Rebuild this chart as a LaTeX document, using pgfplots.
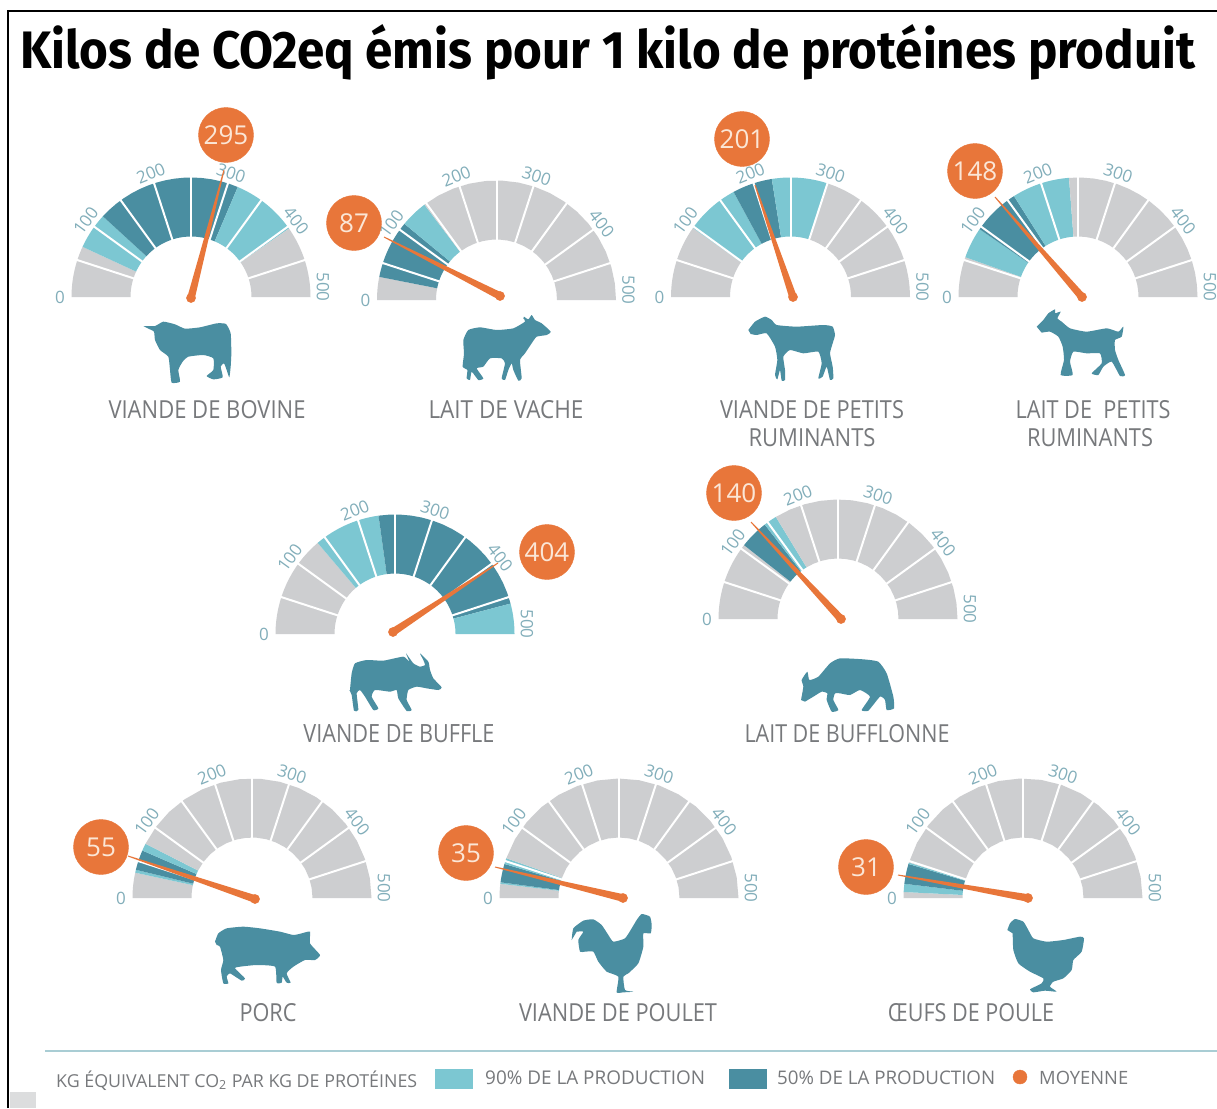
\documentclass[border=0pt]{standalone}
\usepackage{fontspec}
\usepackage{pgfplots}
\pgfplotsset{compat=1.18}
\setmainfont{Open Sans}
\newfontfamily\ttl{Fira Sans}
\definecolor{gr}{HTML}{CDCED0}
\definecolor{lt}{HTML}{7CC7D2}
\definecolor{dk}{HTML}{4A8EA1}
\definecolor{og}{HTML}{E8763A}
\definecolor{tk}{HTML}{82AEBA}
\definecolor{tx}{HTML}{77797C}
\definecolor{cream}{HTML}{FBE6D6}
\definecolor{ln}{HTML}{A9CDD4}
% one ring sector: centre x, centre y, from value, to value, colour
\newcommand\band[5]{%
  \gdef\pts{}%
  \pgfplotsforeachungrouped \t in {0,1,...,16}{%
    \pgfmathsetmacro\a{0.36*(#3+(#4-#3)*\t/16)}%
    \pgfmathsetmacro\xx{#1-119.5*cos(\a)}%
    \pgfmathsetmacro\yy{#2-119.5*sin(\a)}%
    \xdef\pts{\pts (\xx,\yy)}}%
  \pgfplotsforeachungrouped \t in {16,15,...,0}{%
    \pgfmathsetmacro\a{0.36*(#3+(#4-#3)*\t/16)}%
    \pgfmathsetmacro\xx{#1-60.5*cos(\a)}%
    \pgfmathsetmacro\yy{#2-60.5*sin(\a)}%
    \xdef\pts{\pts (\xx,\yy)}}%
  \edef\tmp{\noexpand\addplot[fill=#5,draw=none] coordinates {\pts};}\tmp}
% white separators and scale labels of one gauge
\newcommand\gaugeframe[2]{%
  \pgfplotsforeachungrouped \v in {50,100,...,450}{%
    \pgfmathsetmacro\a{0.36*\v}%
    \pgfmathsetmacro\xa{#1-59*cos(\a)}\pgfmathsetmacro\ya{#2-59*sin(\a)}%
    \pgfmathsetmacro\xb{#1-121*cos(\a)}\pgfmathsetmacro\yb{#2-121*sin(\a)}%
    \edef\tmp{\noexpand\addplot[white,line width=2pt] coordinates {(\xa,\ya) (\xb,\yb)};}\tmp}%
  \node[tick] at (axis cs:#1-131,#2) {0};
  \node[tick,rotate=54] at (axis cs:#1-105.2,#2-76.4) {100};
  \node[tick,rotate=22] at (axis cs:#1-40.2,#2-123.6) {200};
  \node[tick,rotate=-18] at (axis cs:#1+40.2,#2-123.6) {300};
  \node[tick,rotate=-52] at (axis cs:#1+105.2,#2-76.4) {400};
  \node[tick,rotate=-90] at (axis cs:#1+132,#2-10) {500};
}
% needle: pivot x, y, tip x, y ; bubble: x, y, value
\newcommand\needle[7]{%
  \pgfmathsetmacro\dx{#3-#1}\pgfmathsetmacro\dy{#4-#2}%
  \pgfmathsetmacro\len{veclen(\dx,\dy)}%
  \pgfmathsetmacro\nx{-\dy/\len}\pgfmathsetmacro\ny{\dx/\len}%
  \pgfmathsetmacro\pax{#1+3.8*\nx}\pgfmathsetmacro\pay{#2+3.8*\ny}%
  \pgfmathsetmacro\pbx{#3+0.5*\nx}\pgfmathsetmacro\pby{#4+0.5*\ny}%
  \pgfmathsetmacro\pcx{#3-0.5*\nx}\pgfmathsetmacro\pcy{#4-0.5*\ny}%
  \pgfmathsetmacro\pdx{#1-3.8*\nx}\pgfmathsetmacro\pdy{#2-3.8*\ny}%
  \edef\tmp{\noexpand\addplot[fill=og,draw=none] coordinates {(\pax,\pay) (\pbx,\pby) (\pcx,\pcy) (\pdx,\pdy)};}\tmp
  \addplot[only marks,color=og,mark=*,mark size=4.6pt] coordinates {(#1,#2)};
  \addplot[only marks,color=og,mark=*,mark size=27.5pt,
     nodes near coords={#7},
     every node near coord/.style={anchor=center,inner sep=0pt,text=cream,font=\fontsize{26}{26}\selectfont}] coordinates {(#5,#6)};
}
% a label: centre x, y, width, cap height, text
\newcommand\lb[5]{\node[inner sep=0pt,text=tx] at (axis cs:#1,#2) {\resizebox{#3pt}{#4pt}{#5}};}
% silhouette: crop offset x, y, outline in 3x crop coordinates
\newcommand\beast[3]{\addplot[fill=dk,draw=none,smooth,tension=0.3,
   x filter/.code={\pgfmathparse{\pgfmathresult/3+#1}},
   y filter/.code={\pgfmathparse{\pgfmathresult/3+#2}}] coordinates {#3};}
\begin{document}
\begin{tikzpicture}[tick/.style={text=tk,inner sep=0pt,font=\fontsize{17}{17}\selectfont}]
\begin{axis}[scale only axis,width=1217pt,height=1108pt,xmin=0,xmax=1217,ymin=0,ymax=1108,y dir=reverse,hide axis,clip=true]
\addplot[fill=white,draw=none] coordinates {(0,0) (1217,0) (1217,1108) (0,1108)};
% frame
\addplot[black,line width=2.6pt] coordinates {(8,1108) (8,11) (1217,11)};
\addplot[fill=gr!70,draw=none] coordinates {(10,1092) (36,1092) (36,1108) (10,1108)};
\node[anchor=base west,inner sep=0pt,text=black] at (axis cs:20,68) {\resizebox{1175pt}{44pt}{\ttl\bfseries Kilos de CO2eq émis pour 1 kilo de protéines produit}};
% 1 viande de bovine
\band{191}{297}{0}{69}{gr}\band{191}{297}{69}{118}{lt}\band{191}{297}{118}{314}{dk}\band{191}{297}{314}{403}{lt}\band{191}{297}{403}{500}{gr}
\gaugeframe{191}{297}
\needle{191}{298}{224}{170}{226}{135}{295}
% 2 lait de vache
\band{496.5}{300}{0}{31}{gr}\band{496.5}{300}{31}{110}{dk}\band{496.5}{300}{110}{147}{lt}\band{496.5}{300}{147}{500}{gr}
\gaugeframe{496.5}{300}
\needle{500}{296}{384}{237}{354}{223}{87}
% 3 viande de petits ruminants
\band{790.5}{297}{0}{98}{gr}\band{790.5}{297}{98}{171}{lt}\band{790.5}{297}{171}{225}{dk}\band{790.5}{297}{225}{300}{lt}\band{790.5}{297}{300}{500}{gr}
\gaugeframe{790.5}{297}
\needle{793}{297}{755}{185}{742}{139}{201}
% 4 lait de petits ruminants
\band{1078}{297}{0}{54}{gr}\band{1078}{297}{54}{96}{lt}\band{1078}{297}{96}{160}{dk}\band{1078}{297}{160}{238}{lt}\band{1078}{297}{238}{500}{gr}
\gaugeframe{1078}{297}
\needle{1082}{297}{995}{197}{975}{171}{148}
% 5 viande de buffle
\band{395}{634}{0}{138}{gr}\band{395}{634}{138}{228}{lt}\band{395}{634}{228}{459}{dk}\band{395}{634}{459}{500}{lt}
\gaugeframe{395}{634}
\needle{393}{632}{498}{563}{547}{552}{404}
% 6 lait de bufflonne
\band{838}{619}{0}{106}{gr}\band{838}{619}{106}{145}{dk}\band{838}{619}{145}{163}{lt}\band{838}{619}{163}{500}{gr}
\gaugeframe{838}{619}
\needle{841}{619}{751}{522}{734}{493}{140}
% 7 porc
\band{252}{898}{0}{34}{gr}\band{252}{898}{34}{38}{lt}\band{252}{898}{38}{65}{dk}\band{252}{898}{65}{75}{lt}\band{252}{898}{75}{500}{gr}
\gaugeframe{252}{898}
\needle{255}{899}{128}{856}{101}{847}{55}
% 8 viande de poulet
\band{619}{898}{0}{19}{gr}\band{619}{898}{19}{21}{lt}\band{619}{898}{21}{46}{dk}\band{619}{898}{46}{54}{lt}\band{619}{898}{54}{500}{gr}
\gaugeframe{619}{898}
\needle{623}{898}{495}{867}{466}{853}{35}
% 9 oeufs de poule
\band{1023}{898}{0}{8}{gr}\band{1023}{898}{8}{19}{lt}\band{1023}{898}{19}{46}{dk}\band{1023}{898}{46}{48}{lt}\band{1023}{898}{48}{500}{gr}
\gaugeframe{1023}{898}
\needle{1028}{898}{898}{875}{866}{867}{31}
% silhouettes
\beast{0}{90}{(430,708) (465,708) (490,695) (525,703) (555,716) (600,712) (650,700) (678,702) (692,730) (694,790) (692,830) (688,862) (680,840) (672,820) (662,830) (668,862) (640,868) (620,858) (640,840) (640,805) (610,795) (565,800) (548,815) (535,840) (540,875) (515,878) (510,840) (505,800) (480,780) (465,750) (462,725) (445,716)}
\beast{320}{140}{(612,530) (625,538) (635,525) (645,540) (665,550) (692,575) (680,585) (650,590) (635,610) (615,640) (600,660) (605,715) (595,722) (580,690) (575,670) (565,690) (555,720) (545,715) (555,670) (545,655) (510,655) (490,680) (470,685) (490,715) (475,720) (455,695) (450,720) (440,715) (442,690) (428,680) (432,640) (430,600) (445,570) (480,562) (530,570) (580,565) (615,545) (610,535)}
\beast{640}{100}{(325,690) (345,665) (375,650) (395,660) (410,675) (470,680) (550,675) (578,680) (585,705) (578,730) (570,760) (578,800) (580,835) (570,840) (560,800) (548,830) (535,835) (545,790) (535,755) (490,760) (450,750) (430,770) (435,810) (435,840) (425,842) (420,810) (412,838) (405,825) (412,780) (405,740) (380,700) (350,705) (332,702)}
\beast{930}{140}{(320,560) (340,540) (355,520) (375,508) (375,520) (392,515) (382,535) (395,545) (420,565) (470,575) (530,565) (565,575) (580,560) (575,590) (555,600) (555,630) (565,660) (585,705) (570,708) (545,665) (520,680) (505,705) (485,700) (515,670) (510,640) (470,640) (430,635) (420,665) (428,705) (392,705) (402,660) (398,620) (385,590) (360,575) (335,578)}
\beast{250}{490}{(300,600) (305,550) (315,520) (350,510) (400,512) (460,500) (478,515) (468,490) (490,520) (510,530) (525,525) (520,510) (510,490) (535,515) (540,540) (550,565) (575,592) (565,600) (530,595) (500,590) (475,600) (470,630) (485,660) (470,663) (445,625) (440,600) (420,605) (375,600) (365,620) (385,655) (370,660) (345,620) (330,600) (320,610) (325,660) (312,662) (305,615) (298,600)}
\beast{690}{470}{(333,690) (340,650) (335,630) (352,605) (358,630) (385,620) (420,580) (450,565) (520,568) (565,575) (590,610) (610,680) (612,715) (590,720) (585,690) (570,680) (535,722) (515,720) (540,680) (510,660) (480,675) (450,670) (435,670) (430,690) (445,720) (425,725) (410,690) (412,670) (395,665) (370,680) (345,695)}
\beast{60}{760}{(465,545) (475,520) (500,505) (550,500) (600,505) (660,515) (700,525) (725,520) (750,515) (750,550) (780,585) (765,600) (735,600) (700,620) (680,640) (692,668) (680,668) (668,650) (665,668) (650,668) (645,620) (590,615) (540,620) (525,625) (555,655) (545,662) (510,640) (500,650) (505,670) (490,670) (483,630) (490,600) (480,560) (470,555)}
\beast{430}{760}{(425,540) (430,505) (460,482) (490,478) (515,495) (535,525) (550,545) (585,535) (605,505) (620,480) (635,462) (660,470) (665,495) (662,520) (640,520) (640,560) (625,610) (595,640) (580,650) (585,690) (610,695) (580,697) (560,697) (565,650) (530,635) (505,605) (490,575) (465,575) (450,575) (445,540) (460,515) (440,515)}
\beast{830}{760}{(532,510) (540,490) (555,477) (580,485) (595,510) (610,535) (650,545) (700,540) (750,530) (762,535) (755,575) (730,600) (725,630) (700,655) (670,665) (660,680) (680,695) (645,692) (610,697) (600,688) (635,670) (640,655) (600,635) (565,610) (550,570) (548,520)}
% labels
\lb{207}{410}{197}{18}{VIANDE DE BOVINE}
\lb{506}{410}{155}{18}{LAIT DE VACHE}
\lb{812}{410}{184}{18}{VIANDE DE PETITS}
\lb{812}{438}{127}{18}{RUMINANTS}
\lb{1093}{410}{155}{18}{LAIT DE\ \ PETITS}
\lb{1090}{438}{126}{18}{RUMINANTS}
\lb{399}{734}{191}{18}{VIANDE DE BUFFLE}
\lb{847}{734}{205}{18}{LAIT DE BUFFLONNE}
\lb{268}{1013}{57}{18}{PORC}
\lb{618}{1013}{198}{18}{VIANDE DE POULET}
\lb{971}{1013}{166}{18}{ŒUFS DE POULE}
% legend
\addplot[ln,line width=2.6pt] coordinates {(45,1051) (1217,1051)};
\node[inner sep=0pt,anchor=base west,text=tx] at (axis cs:56,1087) {\resizebox{361pt}{!}{KG ÉQUIVALENT CO\textsubscript{2} PAR KG DE PROTÉINES}};
\addplot[fill=lt,draw=none] coordinates {(435,1069) (473,1069) (473,1089) (435,1089)};
\node[inner sep=0pt,anchor=base west,text=tx] at (axis cs:485,1084) {\resizebox{220pt}{!}{90\% DE LA PRODUCTION}};
\addplot[fill=dk,draw=none] coordinates {(729,1069) (767,1069) (767,1089) (729,1089)};
\node[inner sep=0pt,anchor=base west,text=tx] at (axis cs:777,1084) {\resizebox{218pt}{!}{50\% DE LA PRODUCTION}};
\addplot[only marks,color=og,mark=*,mark size=7pt] coordinates {(1020,1077)};
\node[inner sep=0pt,anchor=base west,text=tx] at (axis cs:1039,1084) {\resizebox{89pt}{!}{MOYENNE}};
\end{axis}
\end{tikzpicture}
\end{document}
